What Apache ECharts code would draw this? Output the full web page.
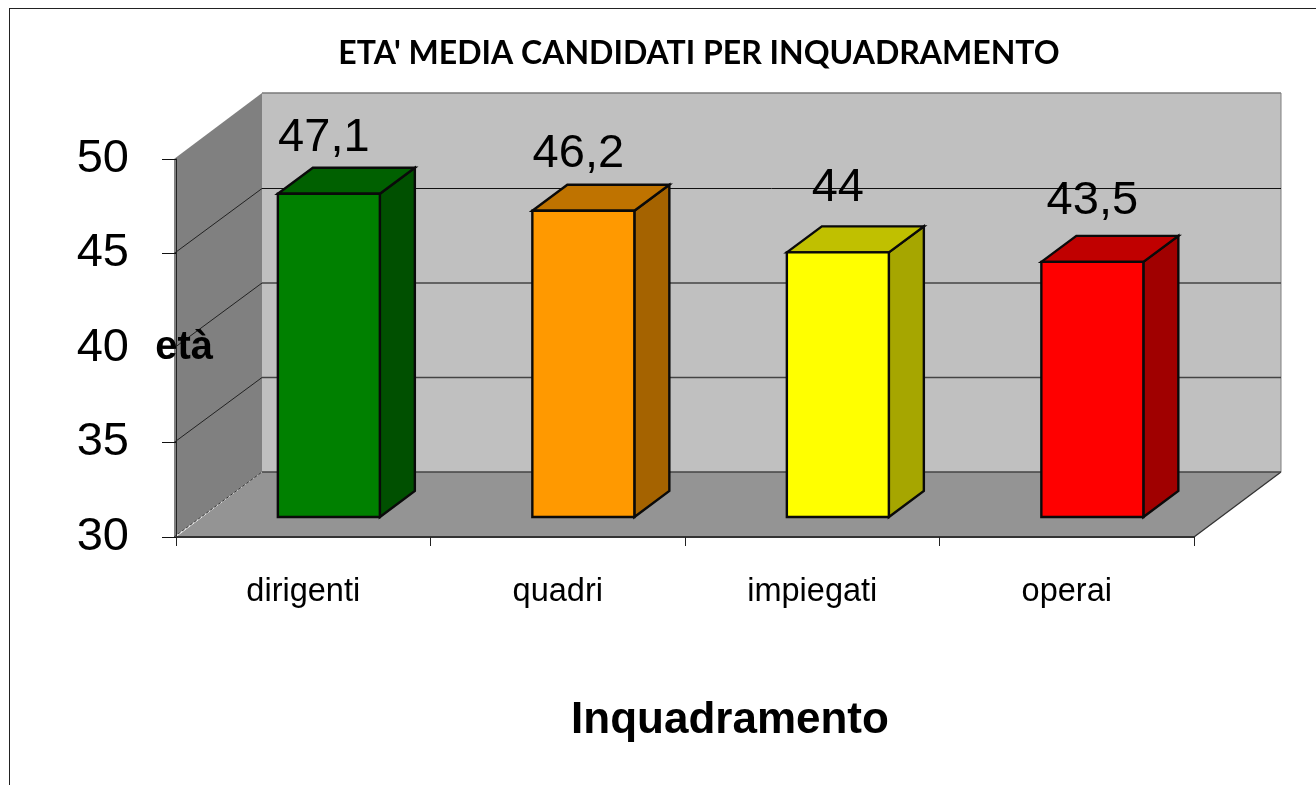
<!DOCTYPE html>
<html>
<head>
<meta charset="utf-8">
<script src="https://cdn.jsdelivr.net/npm/echarts@6/dist/echarts.min.js"></script>
<style>
html,body{margin:0;padding:0;background:#fff;overflow:hidden}
#frame{position:absolute;left:9px;top:8px;right:-2px;bottom:-2px;border-left:1px solid #222;border-top:1px solid #222}
#chart{position:absolute;left:0;top:0;width:1316px;height:785px}
</style>
</head>
<body>
<div id="frame"></div>
<div id="chart"></div>
<script>
// Data
const categories = ['dirigenti', 'quadri', 'impiegati', 'operai'];
const values = [47.1, 46.2, 44, 43.5];
const yTicks = [30, 35, 40, 45, 50];
const titleText = "ETA' MEDIA CANDIDATI PER INQUADRAMENTO";

// Style
const frontColors = ['#008000', '#ff9900', '#ffff00', '#ff0000'];
const topColors = ['#006000', '#bf7300', '#c0c000', '#c00000'];
const sideColors = ['#005000', '#a56300', '#a6a600', '#a00000'];
const labelRise = [56, 57, 64, 61];
const labelShift = [-5, -5, 0, 0];
const DEPTH_X = 86, DEPTH_Y = 65;
const BAR_SHIFT_X = 25.6, BAR_SHIFT_Y = 20, BAR_HALF = 51, BAR_DX = 35, BAR_DY = 26;
const sans = '"Liberation Sans", Arial, sans-serif';

function poly(points, fill, stroke, lineWidth, dash) {
  return {
    type: 'polygon', shape: { points: points },
    style: { fill: fill, stroke: stroke || null, lineWidth: lineWidth || 0, lineDash: dash || null }
  };
}
function seg(x1, y1, x2, y2, stroke, dash, width) {
  return {
    type: 'line', shape: { x1: x1, y1: y1, x2: x2, y2: y2 },
    style: { stroke: stroke, lineWidth: width || 1, lineDash: dash || null }
  };
}

function renderWalls(params, api) {
  const cs = params.coordSys;
  const L = cs.x, R = cs.x + cs.width;
  const top = api.coord([0, yTicks[yTicks.length - 1]])[1];
  const bottom = api.coord([0, yTicks[0]])[1];
  const bR = R + DEPTH_X + 1, bT = top - DEPTH_Y - 1;
  const children = [
    poly([[L + DEPTH_X, bT], [bR, bT], [bR, bottom - DEPTH_Y], [L + DEPTH_X, bottom - DEPTH_Y]], '#c0c0c0'),
    poly([[L - 2, top], [L + DEPTH_X, bT], [L + DEPTH_X, bottom - DEPTH_Y], [L - 2, bottom]], '#808080'),
    poly([[L, bottom], [R, bottom], [bR, bottom - DEPTH_Y], [L + DEPTH_X, bottom - DEPTH_Y]], '#949494'),
    seg(L + DEPTH_X, bT, bR, bT, '#7a7a7a', null, 1.5),
    seg(bR, bT, bR, bottom - DEPTH_Y, '#808080'),
    seg(R, bottom, bR, bottom - DEPTH_Y, '#333', null, 1.3),
    seg(L - 2, bottom, L + DEPTH_X, bottom - DEPTH_Y, '#333', [3, 2])
  ];
  yTicks.forEach(function (t, i) {
    const y = api.coord([0, t])[1];
    if (i > 0 && i < yTicks.length - 1) {
      children.push(seg(L - 2, y, L + DEPTH_X, y - DEPTH_Y, '#222'));
    }
    if (i < yTicks.length - 1) {
      children.push(seg(L + DEPTH_X, y - DEPTH_Y, bR, y - DEPTH_Y, i === 3 ? '#111' : '#444', null, i === 3 ? 1 : 1.6));
    }
  });
  return { type: 'group', children: children };
}

function renderBar(params, api) {
  const i = api.value(0);
  const v = api.value(1);
  const pTop = api.coord([i, v]);
  const pBase = api.coord([i, yTicks[0]]);
  const cx = pTop[0] + BAR_SHIFT_X;
  const l = cx - BAR_HALF, r = cx + BAR_HALF;
  const t = pTop[1] - BAR_SHIFT_Y, b = pBase[1] - BAR_SHIFT_Y;
  const black = '#0a0a0a';
  return {
    type: 'group',
    children: [
      poly([[r, t], [r + BAR_DX, t - BAR_DY], [r + BAR_DX, b - BAR_DY], [r, b]], sideColors[i], black, 2.4),
      poly([[l, t], [l + BAR_DX, t - BAR_DY], [r + BAR_DX, t - BAR_DY], [r, t]], topColors[i], black, 2.4),
      poly([[l, t], [r, t], [r, b], [l, b]], frontColors[i], black, 2.4),
      {
        type: 'text',
        style: {
          x: cx + labelShift[i], y: t - labelRise[i],
          text: String(v).replace('.', ','),
          fill: '#000', font: '47px ' + sans, align: 'center', verticalAlign: 'middle'
        }
      }
    ]
  };
}

const chart = echarts.init(document.getElementById('chart'), null, { renderer: 'canvas' });
chart.setOption({
  animation: false,
  backgroundColor: 'transparent',
  title: {
    text: titleText, left: 694, top: 49, textAlign: 'center', textVerticalAlign: 'middle',
    textStyle: { fontFamily: 'Lato', fontWeight: 'bold', fontSize: 32, color: '#000' }
  },
  grid: { left: 176, right: 122, top: 159, bottom: 248, containLabel: false },
  xAxis: {
    type: 'category', data: categories, z: 5,
    name: 'Inquadramento', nameLocation: 'middle', nameGap: 162, nameMoveOverlap: false,
    nameTextStyle: { fontFamily: sans, fontWeight: 'bold', fontSize: 44, color: '#000', padding: [0, 0, 0, 90] },
    axisLine: { lineStyle: { color: '#333', width: 2 } },
    axisTick: { show: true, length: 9, lineStyle: { color: '#222' } },
    axisLabel: { margin: 39, fontFamily: sans, fontSize: 32.5, color: '#000' },
    splitLine: { show: false }
  },
  yAxis: {
    type: 'value', min: yTicks[0], max: yTicks[yTicks.length - 1], interval: 5, z: 5,
    name: 'età', nameLocation: 'middle', nameRotate: 0, nameGap: -37, nameMoveOverlap: false,
    nameTextStyle: { fontFamily: sans, fontWeight: 'bold', fontSize: 40, color: '#000', padding: [92, 0, 0, 0] },
    axisLine: { show: true, lineStyle: { color: '#222' } },
    axisTick: { show: true, length: 14, lineStyle: { color: '#111' } },
    axisLabel: { margin: 47, fontFamily: sans, fontSize: 47, color: '#000', padding: [12, 0, 0, 0] },
    splitLine: { show: false }
  },
  tooltip: { show: false },
  series: [
    { type: 'custom', z: 1, silent: true, clip: false, renderItem: renderWalls, data: [[0, yTicks[0]]] },
    {
      type: 'custom', z: 2, silent: true, clip: false, renderItem: renderBar,
      encode: { x: 0, y: 1 },
      data: values.map(function (v, i) { return [i, v]; })
    }
  ]
});
</script>
</body>
</html>
